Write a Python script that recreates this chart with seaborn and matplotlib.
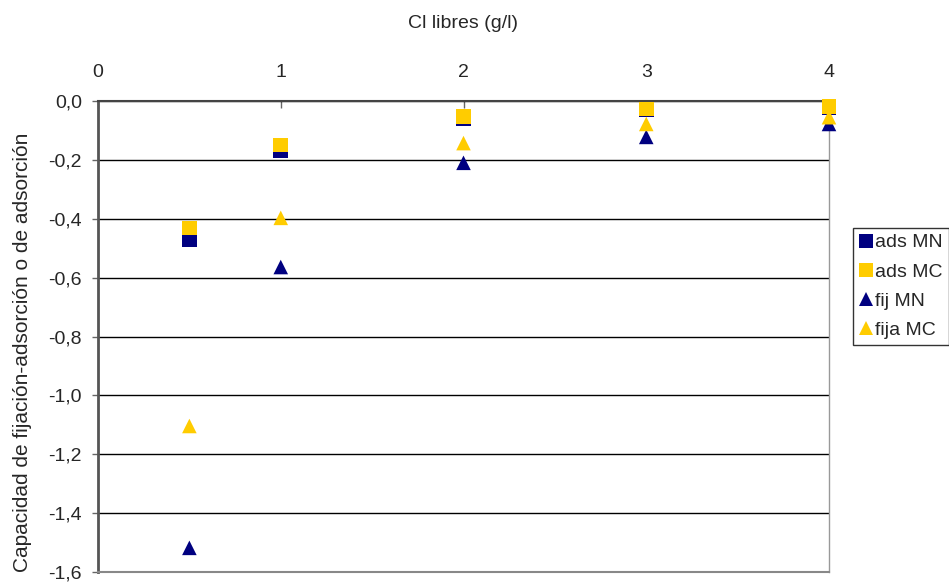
import matplotlib
matplotlib.use("Agg")
import matplotlib.pyplot as plt
import seaborn as sns
import pandas as pd

# Free chloride concentration (g/l)
cl_libres = [0.5, 1, 2, 3, 4]

# Binding / adsorption capacity per series
ads_mn = [-0.472, -0.170, -0.060, -0.031, -0.022]
ads_mc = [-0.431, -0.150, -0.052, -0.027, -0.019]
fij_mn = [-1.518, -0.564, -0.210, -0.122, -0.078]
fija_mc = [-1.104, -0.397, -0.143, -0.078, -0.055]

series_names = ["ads MN", "ads MC", "fij MN", "fija MC"]
y_ticks = [0.0, -0.2, -0.4, -0.6, -0.8, -1.0, -1.2, -1.4, -1.6]
x_ticks = [0, 1, 2, 3, 4]

navy = "#000080"
gold = "#FFCC00"
FS = 14

df = pd.concat([
    pd.DataFrame({"x": cl_libres, "y": vals, "serie": name})
    for name, vals in zip(series_names, [ads_mn, ads_mc, fij_mn, fija_mc])
], ignore_index=True)

sns.set_theme(style="white")
plt.rcParams["font.family"] = ["Liberation Sans", "DejaVu Sans"]

fig = plt.figure(figsize=(9.49, 5.85), dpi=100)
ax = fig.add_axes([98 / 949, 1 - 572 / 585, (829 - 98) / 949, (572 - 101) / 585])

palette = {"ads MN": navy, "ads MC": gold, "fij MN": navy, "fija MC": gold}
markers = {"ads MN": "s", "ads MC": "s", "fij MN": "^", "fija MC": "^"}

sns.scatterplot(data=df, x="x", y="y", hue="serie", style="serie",
                hue_order=series_names, style_order=series_names,
                palette=palette, markers=markers, s=110, linewidth=0,
                ax=ax, zorder=3, clip_on=False)

ax.set_xlim(0, 4)
ax.set_ylim(-1.6, 0)
ax.xaxis.tick_top()
ax.set_xticks(x_ticks)
ax.set_xticklabels([str(v) for v in x_ticks], fontsize=FS)
ax.set_yticks(y_ticks)
ax.set_yticklabels([f"{v:.1f}".replace(".", ",").replace("-0,0", "0,0") for v in y_ticks],
                   fontsize=FS)
ax.tick_params(axis="x", direction="in", length=5, width=1, color="#666666", pad=14.5,
               top=True, bottom=False)
ax.tick_params(axis="y", direction="out", length=4.5, width=1, color="#666666", pad=7,
               left=True)

ax.yaxis.grid(True, color="black", linewidth=1)
ax.xaxis.grid(False)
ax.spines["top"].set_color("#444444")
ax.spines["top"].set_linewidth(1.5)
ax.spines["left"].set_color("#555555")
ax.spines["left"].set_linewidth(2)
ax.spines["right"].set_color("#999999")
ax.spines["right"].set_linewidth(1)
ax.spines["bottom"].set_color("#888888")
ax.spines["bottom"].set_linewidth(1.5)

ax.set_xlabel("")
ax.set_ylabel("")
fig.text(463 / 949, 1 - 24 / 585, "Cl libres (g/l)", fontsize=FS,
         ha="center", va="center")
fig.text(23 / 949, 1 - 352 / 585, "Capacidad de fijación-adsorción o de adsorción",
         fontsize=15, rotation=90, ha="center", va="center")

handles, labels = ax.get_legend_handles_labels()
ax.legend(handles, labels, loc="upper left", bbox_to_anchor=(853 / 949, 1 - 228 / 585),
          bbox_transform=fig.transFigure, frameon=True, fancybox=False,
          edgecolor="black", fontsize=FS, handlelength=0.7, handletextpad=0.15,
          borderpad=0.3, labelspacing=0.6, borderaxespad=0, markerscale=0.95)
leg = ax.get_legend()
leg.get_frame().set_linewidth(1)

fig.savefig("out.png", dpi=100)
